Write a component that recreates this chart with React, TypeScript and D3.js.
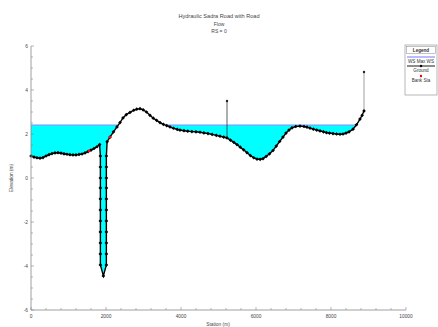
import React from "react";
import * as d3 from "d3";

const titleLines = ["Hydraulic Sadra Road with Road", "Flow", "RS = 0"];
const xTicks = [0, 2000, 4000, 6000, 8000, 10000];
const yTicks = [-6, -4, -2, 0, 2, 4, 6];
const wsElevation = 2.41;
const wsEnd = 8880;

const groundStation = [
  0, 80, 160, 240, 320, 400, 480, 560, 640, 720, 800, 880, 960, 1040, 1120, 1200, 1280, 1360, 1440, 1520, 1600, 1680, 1760, 1830,
  1850, 1850, 1850, 1850, 1850, 1850, 1850, 1850, 1850, 1850, 1850, 1930,
  2010, 2010, 2010, 2010, 2010, 2010, 2010, 2010, 2010, 2010, 2010,
  2030, 2107, 2200, 2293, 2373, 2453, 2540, 2640, 2740, 2820, 2907, 2990, 3080, 3173, 3260, 3350, 3440, 3530, 3620, 3707, 3800, 3900,
  3973, 4080, 4180, 4290, 4400, 4507, 4610, 4720, 4830, 4940, 5040, 5140, 5227, 5320, 5410, 5493, 5580, 5670, 5760, 5850, 5940, 6027,
  6110, 6187, 6270, 6360, 6453, 6540, 6630, 6720, 6800, 6880, 6960, 7060, 7173, 7280, 7360, 7440, 7530, 7620, 7707, 7800, 7880, 7960,
  8053, 8150, 8240, 8320, 8400, 8480, 8587, 8680, 8773, 8830, 8880,
];
const groundElevation = [
  1.0, 0.95, 0.92, 0.9, 0.93, 1.0, 1.06, 1.11, 1.14, 1.15, 1.13, 1.1, 1.08, 1.06, 1.05, 1.05, 1.07, 1.09, 1.14, 1.2, 1.27, 1.34, 1.42, 1.52,
  1.0, 0.5, 0.0, -0.45, -0.95, -1.45, -1.95, -2.45, -2.95, -3.45, -3.95, -4.45,
  -3.95, -3.45, -2.95, -2.45, -1.95, -1.45, -0.95, -0.45, 0.0, 0.5, 1.0,
  1.65, 1.86, 2.1, 2.32, 2.52, 2.73, 2.88, 2.98, 3.08, 3.13, 3.15, 3.1, 3.0, 2.85, 2.72, 2.62, 2.52, 2.44, 2.38, 2.32, 2.26, 2.21,
  2.18, 2.15, 2.13, 2.11, 2.1, 2.08, 2.05, 2.02, 1.98, 1.94, 1.9, 1.86, 1.82, 1.72, 1.62, 1.52, 1.4, 1.28, 1.15, 1.02, 0.92, 0.86,
  0.85, 0.88, 0.98, 1.1, 1.25, 1.45, 1.66, 1.86, 2.04, 2.18, 2.28, 2.34, 2.36, 2.34, 2.31, 2.27, 2.22, 2.18, 2.14, 2.1, 2.06, 2.04,
  2.02, 2.0, 1.99, 2.0, 2.04, 2.1, 2.22, 2.42, 2.68, 2.85, 3.05,
];
const bankStation = [1547, 2107];
const bankElevation = [1.23, 1.86];
const markStation = [5227, 8880];
const markFrom = [1.82, 3.05];
const markTo = [3.5, 4.82];

const W = 438;
const H = 327;
const FONT = "Liberation Sans, Arial, sans-serif";

export default function App() {
  const x = d3.scaleLinear().domain([0, 10000]).range([31, 406]);
  const y = d3.scaleLinear().domain([-6, 6]).range([310, 46]);
  const pts = groundStation.map((s, i) => [s, groundElevation[i]] as [number, number]);
  const line = d3.line<[number, number]>().x((d) => x(d[0])).y((d) => y(d[1]));
  const groundPath = line(pts) || "";
  const last = pts[pts.length - 1];
  const abovePath = groundPath + `L${x(last[0])},0L${x(pts[0][0])},0Z`;

  const xMinor = d3.range(0, 10001, 400);
  const yMinor = d3.range(-6, 6.01, 0.5);

  return (
    <svg width={W} height={H} style={{ position: "absolute", left: 0, top: 0, background: "#fff" }}>
      <defs>
        <clipPath id="aboveGround">
          <path d={abovePath} />
        </clipPath>
      </defs>
      {titleLines.map((t, i) => (
        <text key={t} x={219} y={18 + i * 7.5} fontSize={i === 0 ? 5.6 : 5} fontFamily={FONT} textAnchor="middle" fill="#444">
          {t}
        </text>
      ))}
      <g clipPath="url(#aboveGround)">
        <rect x={x(0)} y={y(wsElevation)} width={x(wsEnd) - x(0)} height={y(-6) - y(wsElevation)} fill="#00ffff" />
        <line x1={x(0)} x2={x(wsEnd)} y1={y(wsElevation)} y2={y(wsElevation)} stroke="#8c8cff" strokeWidth={1.2} />
      </g>
      {markStation.map((s, i) => (
        <g key={s}>
          <line x1={x(s)} x2={x(s)} y1={y(markFrom[i])} y2={y(markTo[i])} stroke={i === 0 ? "#333" : "#888"} strokeWidth={0.8} />
          <circle cx={x(s)} cy={y(markTo[i])} r={1.2} fill="#222" />
        </g>
      ))}
      <path d={groundPath} fill="none" stroke="#000" strokeWidth={1.4} />
      {pts.map((p, i) => (
        <rect key={i} x={x(p[0]) - 1.3} y={y(p[1]) - 1.3} width={2.6} height={2.6} fill="#000"
          transform={`rotate(45 ${x(p[0])} ${y(p[1])})`} />
      ))}
      {bankStation.map((s, i) => (
        <circle key={s} cx={x(s)} cy={y(bankElevation[i])} r={1.4} fill="#ff0000" />
      ))}
      <line x1={31} x2={31} y1={46} y2={310} stroke="#888" strokeWidth={0.8} />
      <line x1={31} x2={406} y1={310} y2={310} stroke="#888" strokeWidth={0.8} />
      {xMinor.map((v) => (
        <line key={"xm" + v} x1={x(v)} x2={x(v)} y1={310} y2={v % 2000 === 0 ? 307 : 308} stroke="#888" strokeWidth={0.6} />
      ))}
      {yMinor.map((v) => (
        <line key={"ym" + v} x1={31} x2={Math.abs(v % 2) < 1e-6 ? 34 : 33} y1={y(v)} y2={y(v)} stroke="#888" strokeWidth={0.6} />
      ))}
      {xTicks.map((v) => (
        <text key={"xt" + v} x={x(v)} y={318} fontSize={4.8} fontFamily={FONT} textAnchor="middle" fill="#444">
          {v}
        </text>
      ))}
      {yTicks.map((v) => (
        <text key={"yt" + v} x={28} y={y(v) + 1.7} fontSize={4.8} fontFamily={FONT} textAnchor="end" fill="#444">
          {v}
        </text>
      ))}
      <text x={218} y={326} fontSize={4.8} fontFamily={FONT} textAnchor="middle" fill="#444">Station (m)</text>
      <text transform="translate(13,178) rotate(-90)" fontSize={4.8} fontFamily={FONT} textAnchor="middle" fill="#444">Elevation (m)</text>
      <g fontFamily={FONT} fontSize={4.6} fill="#333">
        <rect x={405} y={45} width={32} height={50} fill="#fff" stroke="#999" strokeWidth={0.7} />
        <rect x={406.5} y={46.5} width={29} height={7} fill="#fff" stroke="#999" strokeWidth={0.6} />
        <text x={421} y={51.8} textAnchor="middle" fontWeight="bold">Legend</text>
        <line x1={407} x2={435} y1={57} y2={57} stroke="#8c8cff" strokeWidth={1.2} />
        <text x={421} y={62.5} textAnchor="middle">WS Max WS</text>
        <line x1={407} x2={435} y1={66} y2={66} stroke="#000" strokeWidth={0.9} />
        <circle cx={421} cy={66} r={1.2} fill="#000" />
        <text x={421} y={72} textAnchor="middle">Ground</text>
        <circle cx={421} cy={76} r={1.2} fill="#ff0000" />
        <text x={421} y={82} textAnchor="middle">Bank Sta</text>
      </g>
    </svg>
  );
}
